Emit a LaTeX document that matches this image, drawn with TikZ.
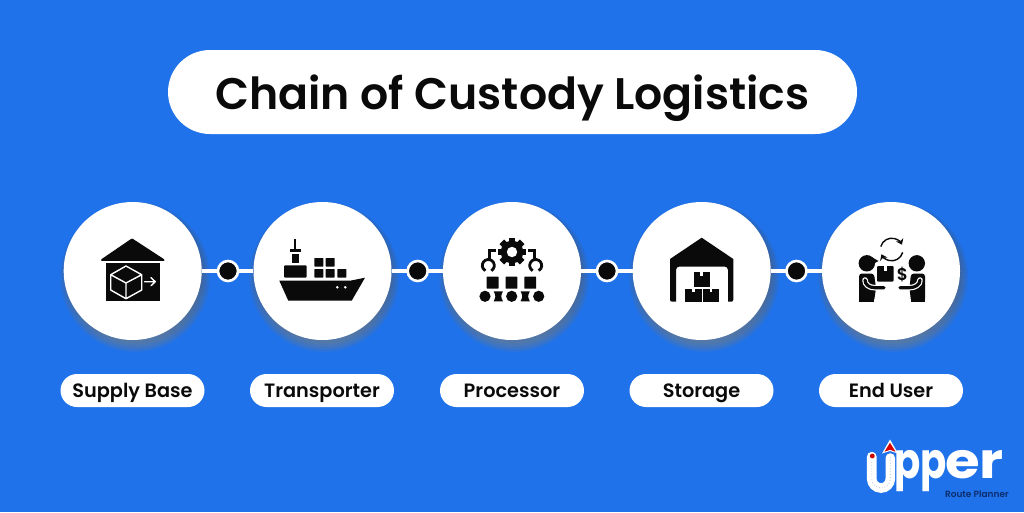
\documentclass[tikz,border=0pt]{standalone}
\usepackage{fontspec}
\setmainfont{Poppins}
\newfontfamily\popsb{Poppins SemiBold}
\newfontfamily\popb{Poppins Bold}
\usetikzlibrary{shapes.misc,arrows.meta}
\definecolor{bg}{HTML}{1F72EA}
\definecolor{ink}{HTML}{0A0A0A}
\definecolor{shade}{HTML}{0B3C8C}
\definecolor{navy}{HTML}{0C2D6E}
\tikzset{
  disc/.style={circle,fill=white,minimum size=138pt,inner sep=0pt},
  link/.style={draw=white,line width=3.6pt},
  hub/.style={circle,fill=ink,draw=white,line width=2.6pt,minimum size=20pt,inner sep=0pt},
  pill/.style={rounded rectangle,fill=white,inner sep=0pt,text=ink,font=\popsb\fontsize{19.3}{20}\selectfont,minimum width=144pt,minimum height=33pt,text height=14pt,text depth=0pt},
  title/.style={rounded rectangle,fill=white,inner sep=0pt,text=ink,font=\popsb\fontsize{44.2}{48}\selectfont,minimum width=689pt,minimum height=84pt,text height=34pt,text depth=0pt},
  iconw/.style={draw=white,line width=1.4pt,line join=round,line cap=round},
  logotext/.style={inner sep=0pt,anchor=base west,text=white,font=\popb\fontsize{46}{46}\selectfont},
}
\begin{document}
\begin{tikzpicture}[x=1pt,y=1pt,yscale=-1]
\useasboundingbox (0,0) rectangle (1024,512);
\fill[bg] (0,0) rectangle (1024,512);
% shadows
\foreach \cx in {133,322,512,702,891}{
  \foreach \r in {75,73.5,72,70.5,69,67.5,66}{
    \fill[shade,opacity=0.06] (\cx+2,271+6) circle[radius=\r];
  }
}
% title and labels
\node[title] (head) at (512.5,92) {Chain of Custody Logistics};
\node[pill] (l1) at (132.5,390.5) {Supply Base};
\node[pill] (l2) at (322,390.5) {Transporter};
\node[pill] (l3) at (512,390.5) {Processor};
\node[pill] (l4) at (701.5,390.5) {Storage};
\node[pill] (l5) at (891,390.5) {End User};
% discs and hubs
\node[disc] (c1) at (132.7,271) {};
\node[disc] (c2) at (322.5,271) {};
\node[disc] (c3) at (512,271) {};
\node[disc] (c4) at (701.7,271) {};
\node[disc] (c5) at (891,271) {};
\coordinate (h1) at (228,271);
\coordinate (h2) at (417.7,271);
\coordinate (h3) at (607,271);
\coordinate (h4) at (796.5,271);
\draw[link] (c1) -- (h1) -- (c2);
\draw[link] (c2) -- (h2) -- (c3);
\draw[link] (c3) -- (h3) -- (c4);
\draw[link] (c4) -- (h4) -- (c5);
\node[hub] (d1) at (h1) {};
\node[hub] (d2) at (h2) {};
\node[hub] (d3) at (h3) {};
\node[hub] (d4) at (h4) {};
% icon 1: supply base
\fill[ink,rounded corners=0.8pt] (132,238.3) -- (164.5,259.5) -- (164.5,260.8) -- (101,260.8) -- (101,259.5) -- cycle;
\fill[ink] (106,263.3) rectangle (160,301.3);
\draw[iconw] (126,266) -- (141.7,274.7) -- (141.7,290) -- (126,298.7) -- (110.7,290) -- (110.7,274.7) -- cycle
  (110.7,274.7) -- (126,283) -- (141.7,274.7) (126,283) -- (126,298.7);
\draw[iconw] (144.5,281.7) -- (155.3,281.7) (151,277.7) -- (155.3,281.7) -- (151,285.7);
% icon 2: ship
\fill[ink] (279.3,280.7) -- (350,280.7) -- (365,277.7) -- (351.7,300.7) -- (288.3,300.7) -- cycle;
\fill[ink,rounded corners=1pt] (284,265.3) rectangle (306.7,277.6);
\fill[ink] (291.7,254) rectangle (299,263);
\fill[ink] (290,249.3) rectangle (300.7,251.9);
\fill[ink] (294.3,239.3) rectangle (296.3,249.3);
\foreach \xa/\ya in {314.3/258,325.7/258,314.3/269,325.7/269,337.3/269}{
  \fill[ink,rounded corners=0.5pt] (\xa,\ya) rectangle ++(9,8.5);
}
\fill[white] (337.3,287.3) circle[radius=1.4] (345.3,287.3) circle[radius=1.4];
% icon 3: processor
\foreach \a in {0,45,...,315}{
  \fill[ink,rotate around={\a:(512,252)}] (508.8,237.6) rectangle (515.2,244);
}
\fill[ink] (512,252) circle[radius=11.3];
\fill[white] (512,252) circle[radius=5.2];
\draw[ink,line width=2.5pt] (496,250.7) -- (489.5,250.7) -- (489.5,259.5);
\draw[ink,line width=2.5pt] (528,250.7) -- (534.5,250.7) -- (534.5,259.5);
\draw[ink,line width=2.8pt] (488.3,265.5) ++(60:6) arc[start angle=60,end angle=-240,radius=6];
\draw[ink,line width=2.8pt] (535.7,265.5) ++(120:6) arc[start angle=120,end angle=420,radius=6];
\foreach \xa in {486.7,505.5,524.3}{
  \fill[ink,rounded corners=0.5pt] (\xa,276.7) rectangle ++(11.9,11.9);
}
\foreach \xa in {485,511.7,538.7}{
  \fill[ink] (\xa,296.3) circle[radius=5.6];
}
\foreach \xa in {498.3,525.2}{
  \fill[ink] (\xa-4.6,291.3) -- (\xa+4.6,291.3) .. controls (\xa+2.4,296.3) .. (\xa+4.6,301.3) -- (\xa-4.6,301.3) .. controls (\xa-2.4,296.3) .. cycle;
}
% icon 4: storage
\fill[ink] (701.7,237.7) -- (733.3,259) -- (733.3,299.7) arc[start angle=0,end angle=90,radius=2] -- (728,301.7) -- (728,270)
  arc[start angle=0,end angle=-90,radius=3.5] -- (679.5,266.5) arc[start angle=270,end angle=180,radius=3.5] -- (676,301.7) -- (672,301.7) arc[start angle=90,end angle=180,radius=2] -- (670,259) -- cycle;
\foreach \xa/\ya/\w/\hh in {693.5/272.3/16.5/15,684.7/288.6/16.8/13.1,702.5/288.6/16.8/13.1}{
  \fill[ink] (\xa,\ya) rectangle ++(\w,\hh);
  \fill[white] (\xa+\w/2-1.4,\ya) rectangle ++(2.8,3.4);
}
% icon 5: end user
\draw[ink,line width=1.4pt,-{Stealth[length=5.5pt,width=8pt]}] (891.7,249.5) ++(195:11.3) arc[start angle=195,end angle=335,radius=11.3];
\draw[ink,line width=1.4pt,-{Stealth[length=5.5pt,width=8pt]}] (891.7,249.5) ++(15:11.3) arc[start angle=15,end angle=155,radius=11.3];
% left person
\fill[ink] (866.8,263.3) circle[radius=8.2];
\fill[ink] (869,255.5) -- (878.5,261) -- (873,264) -- cycle;
\fill[ink,rounded corners=3pt] (859,301.7) -- (859,273.5) -- (874,273.5) -- (876,288) -- (874,301.7) -- cycle;
\fill[ink] (859,290) rectangle (874,301.7);
\draw[white,line width=5.6pt,line cap=round] (865,280) .. controls (865,284.5) and (869,287.7) .. (875,287.7) -- (884,287.7);
\draw[ink,line width=3.2pt,line cap=round] (865,280) .. controls (865,284.5) and (869,287.7) .. (875,287.7) -- (884,287.7);
% right person
\fill[ink] (916.8,263.3) circle[radius=8.2];
\fill[ink,rounded corners=3pt] (925,301.7) -- (925,273.5) -- (911,273.5) -- (909.5,288) -- (911,301.7) -- cycle;
\fill[ink] (911,290) rectangle (925,301.7);
\draw[white,line width=5.6pt,line cap=round] (920,280) .. controls (920,284.5) and (915.5,287.7) .. (909,287.7) -- (900,287.7);
\draw[ink,line width=3.2pt,line cap=round] (920,280) .. controls (920,284.5) and (915.5,287.7) .. (909,287.7) -- (900,287.7);
% parcel and dollar
\fill[ink,rounded corners=1pt] (877,266) rectangle (893.5,281.7);
\fill[white] (883.8,266) rectangle (886.8,271);
\node[inner sep=0pt,text=ink,font=\popsb\fontsize{17}{17}\selectfont] (dollar) at (902.3,275) {\$};
% logo
\node[logotext] (pp) at (894.5,478) {\scalebox{0.84}[1.08]{pp}};
\node[logotext] (er) at (945,478) {\scalebox{1.22}[1.08]{er}};
\draw[white,line width=9.6pt,line cap=round] (871.7,456.7) -- (871.7,478.7) arc[start angle=180,end angle=0,radius=9.3] -- (890.3,458);
\draw[white!75!navy,line width=0.9pt,dotted] (871.7,462) -- (871.7,478.7) arc[start angle=180,end angle=0,radius=9.3] -- (890.3,456);
\fill[white] (872.3,456) circle[radius=4];
\fill[red!80!black] (872.3,456) circle[radius=2.4];
\fill[white] (890,439.5) -- (898,453.5) -- (890,451) -- (882,453.5) -- cycle;
\fill[red!85!black] (890,442.7) -- (895.5,451.7) -- (890,449.8) -- (884.5,451.7) -- cycle;
\node[inner sep=0pt,anchor=base east,text=navy,font=\popsb\fontsize{9}{10}\selectfont] (route) at (1009,497) {Route Planner};
\end{tikzpicture}
\end{document}
